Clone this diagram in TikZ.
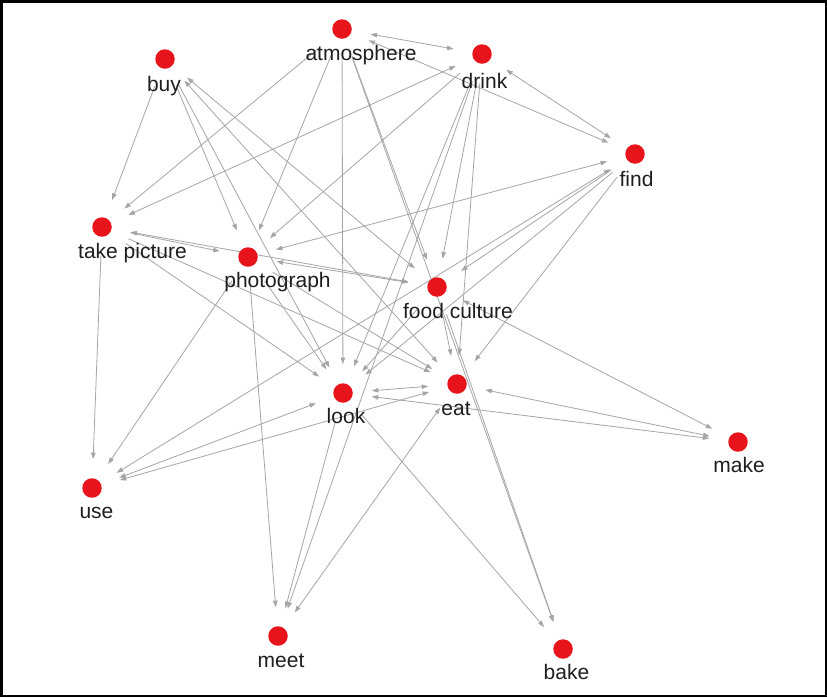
\documentclass[tikz,border=0pt]{standalone}
\usepackage{fontspec}
\setmainfont{Liberation Sans}
\usetikzlibrary{arrows.meta}
\definecolor{dotred}{RGB}{232,20,27}
\definecolor{edgegray}{RGB}{165,165,165}
\definecolor{labeltext}{RGB}{30,30,30}
\pgfdeclarelayer{bglayer}
\pgfdeclarelayer{edgelayer}
\pgfsetlayers{bglayer,edgelayer,main}
\tikzset{
  dot/.style={circle,fill=dotred,draw=none,minimum size=19.5pt,inner sep=0pt},
  lbl/.style={anchor=base,inner sep=0pt,text=labeltext,font=\fontsize{21pt}{25pt}\selectfont},
  ed/.style={draw=edgegray,line width=0.8pt,-{Triangle[length=6.5pt,width=4.5pt]},shorten >=19pt,shorten <=19pt},
  ed2/.style={draw=edgegray,line width=0.8pt,{Triangle[length=6.5pt,width=4.5pt]}-{Triangle[length=6.5pt,width=4.5pt]},shorten >=19pt,shorten <=19pt}
}
\begin{document}
\begin{tikzpicture}[x=1pt,y=-1pt]
\useasboundingbox (0,0) rectangle (827,697);
\begin{pgfonlayer}{bglayer}
\fill[white] (0,0) rectangle (827,697);
\end{pgfonlayer}
\draw[line width=2.5pt] (1.25,1.25) rectangle (825.75,695.75);
% dots
\node[dot] (atm) at (342,29) {};
\node[dot] (drink) at (482,54) {};
\node[dot] (find) at (635,154) {};
\node[dot] (buy) at (165,59) {};
\node[dot] (tp) at (102,227) {};
\node[dot] (photo) at (248,257) {};
\node[dot] (fc) at (437,287) {};
\node[dot] (look) at (343,393) {};
\node[dot] (eat) at (457,384) {};
\node[dot] (make) at (738,442) {};
\node[dot] (bake) at (563,649) {};
\node[dot] (meet) at (278,636) {};
\node[dot] (use) at (92,488) {};
% edges
\begin{pgfonlayer}{edgelayer}
\draw[ed2] (atm) -- (drink);
\draw[ed2] (atm) -- (find);
\draw[ed2] (drink) -- (find);
\draw[ed] (atm) -- (tp);
\draw[ed] (atm) -- (photo);
\draw[ed] (atm) -- (look);
\draw[ed] (atm) -- (fc);
\draw[ed] (atm) -- (bake);
\draw[ed2] (drink) -- (tp);
\draw[ed] (drink) -- (photo);
\draw[ed] (drink) -- (look);
\draw[ed] (drink) -- (meet);
\draw[ed] (drink) -- (fc);
\draw[ed] (drink) -- (eat);
\draw[ed2] (photo) -- (find);
\draw[ed] (find) -- (fc);
\draw[ed] (find) -- (look);
\draw[ed] (find) -- (eat);
\draw[ed2] (find) -- (use);
\draw[ed2] (look) -- (use);
\draw[ed2] (eat) -- (use);
\draw[ed2] (look) -- (eat);
\draw[ed2] (look) -- (make);
\draw[ed2] (eat) -- (make);
\draw[ed2] (fc) -- (make);
\draw[ed2] (eat) -- (meet);
\draw[ed] (look) -- (meet);
\draw[ed] (photo) -- (meet);
\draw[ed] (tp) -- (use);
\draw[ed] (photo) -- (use);
\draw[ed] (buy) -- (tp);
\draw[ed] (buy) -- (photo);
\draw[ed] (buy) -- (look);
\draw[ed2] (buy) -- (eat);
\draw[ed2] (buy) -- (fc);
\draw[ed] (tp) -- (photo);
\draw[ed2] (tp) -- (fc);
\draw[ed2] (photo) -- (fc);
\draw[ed] (tp) -- (look);
\draw[ed] (tp) -- (eat);
\draw[ed] (photo) -- (eat);
\draw[ed] (photo) -- (look);
\draw[ed] (fc) -- (look);
\draw[ed] (fc) -- (eat);
\draw[ed] (fc) -- (bake);
\draw[ed] (look) -- (bake);
\end{pgfonlayer}
% labels
\node[lbl] (latm) at (361,60) {atmosphere};
\node[lbl] (ldrink) at (484.5,88) {drink};
\node[lbl] (lfind) at (636.5,186) {find};
\node[lbl] (lbuy) at (164,91) {buy};
\node[lbl] (ltp) at (132.5,258) {take picture};
\node[lbl] (lphoto) at (277.5,287) {photograph};
\node[lbl] (lfc) at (458,318) {food culture};
\node[lbl] (llook) at (346,423) {look};
\node[lbl] (leat) at (456,415) {eat};
\node[lbl] (lmake) at (739,472) {make};
\node[lbl] (lbake) at (566.5,679) {bake};
\node[lbl] (lmeet) at (281,667) {meet};
\node[lbl] (luse) at (96.5,518) {use};
\end{tikzpicture}
\end{document}
